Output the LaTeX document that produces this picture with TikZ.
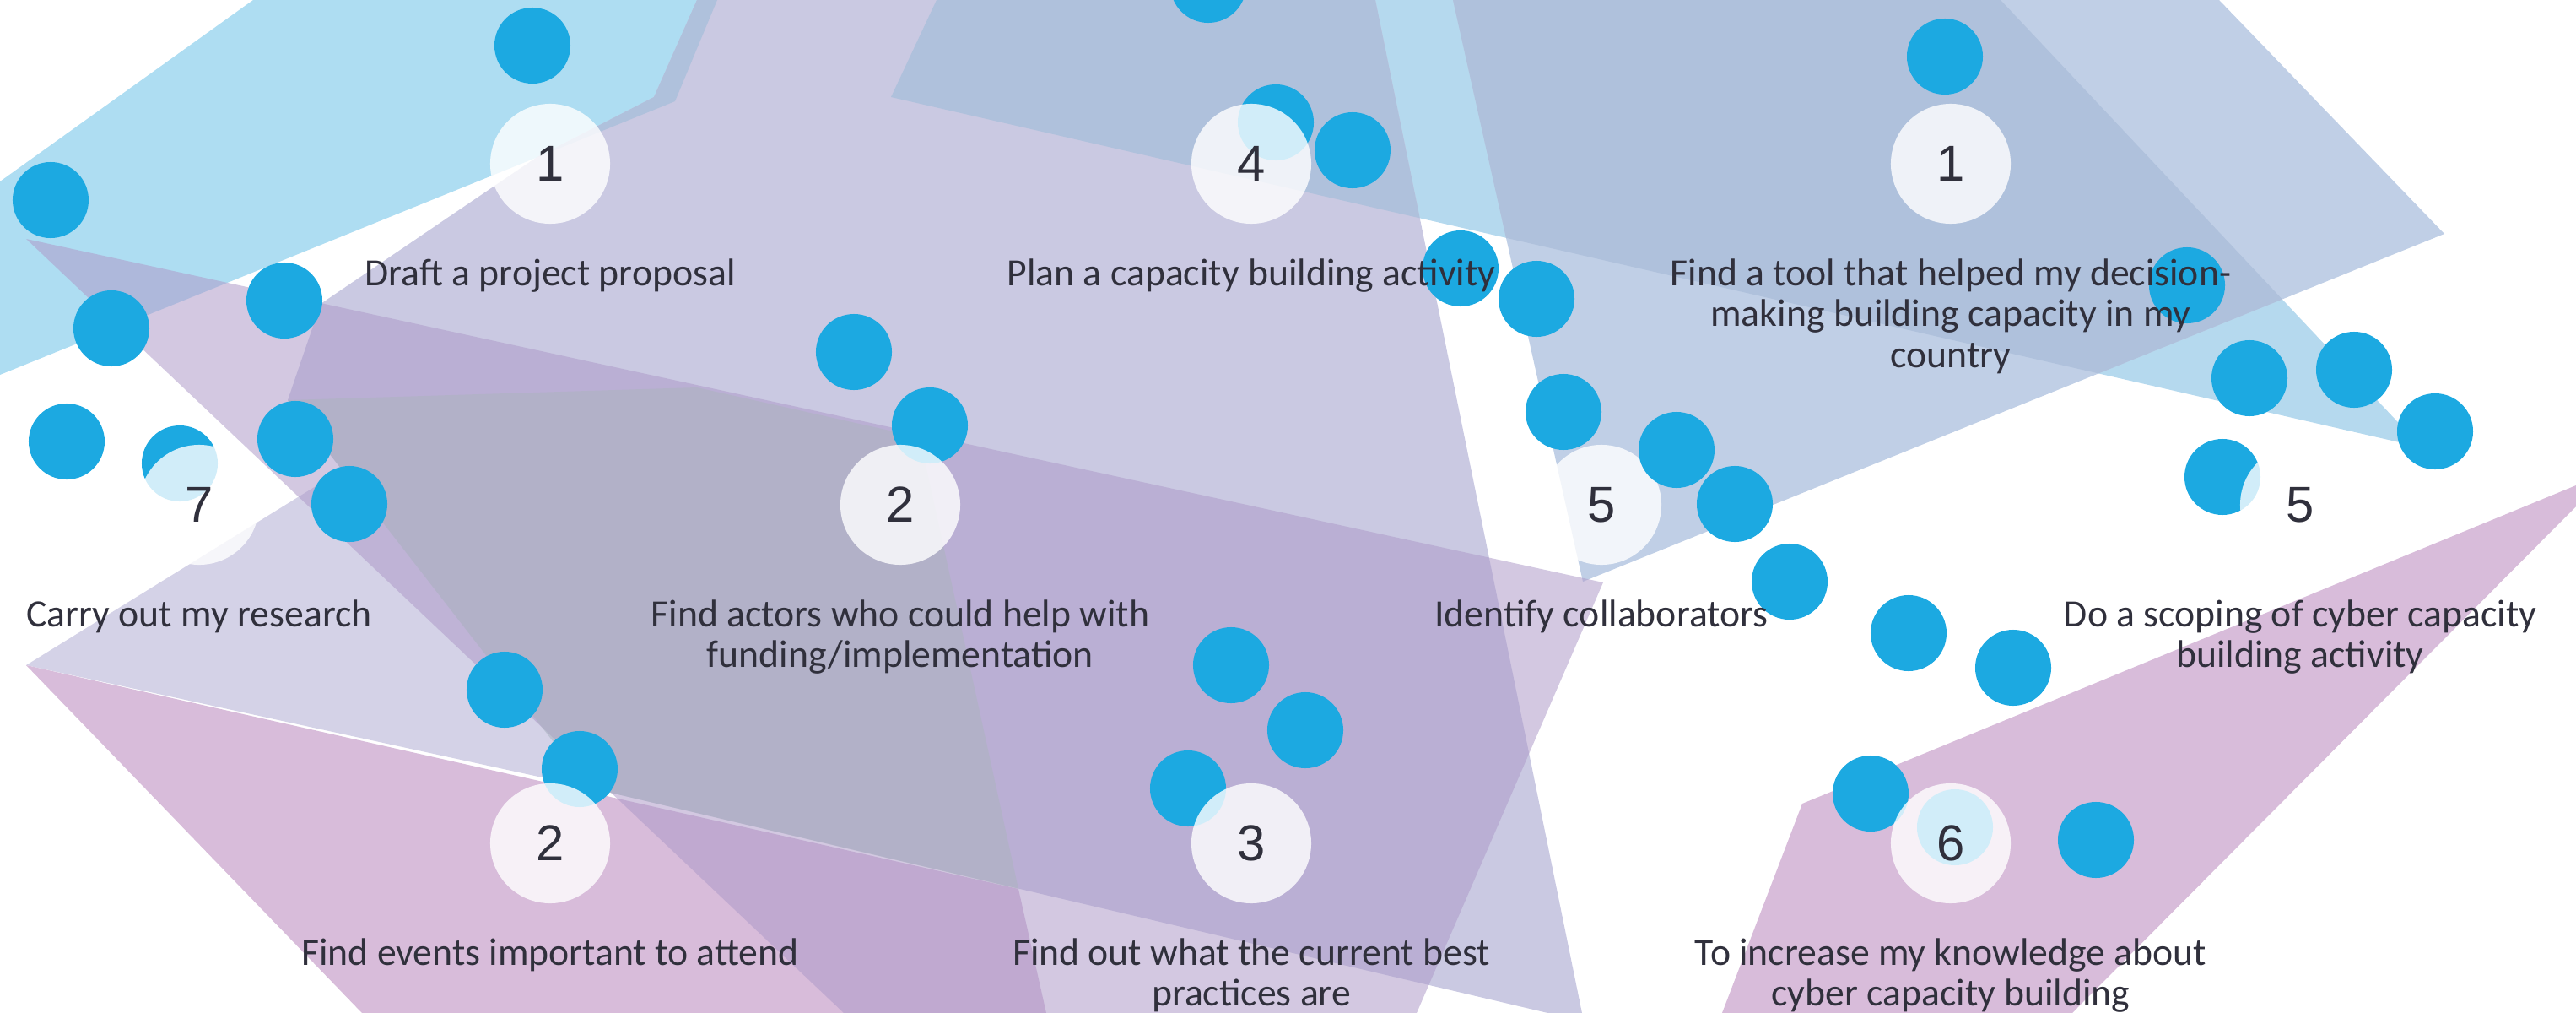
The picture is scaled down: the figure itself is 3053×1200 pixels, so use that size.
\documentclass[tikz,border=0pt]{standalone}
\usepackage{fontspec}
\setmainfont{Carlito}
\newfontfamily\numfont{Liberation Sans}
\usetikzlibrary{positioning}
\definecolor{dotblue}{HTML}{1CA9E1}
\definecolor{skyband}{HTML}{AEDDF2}
\definecolor{paleblue}{HTML}{B5D9EE}
\definecolor{bluegray}{HTML}{AFC1DC}
\definecolor{lavend}{HTML}{CAC9E2}
\definecolor{lightlav}{HTML}{D4D2E7}
\definecolor{purp}{HTML}{AE9BC9}
\definecolor{pinkish}{HTML}{D8BCDA}
\definecolor{steel}{HTML}{C0CFE6}
\definecolor{slate}{HTML}{A8B6B8}
\definecolor{txt}{HTML}{30303C}
\tikzset{
  dot/.style={fill=dotblue},
  numcirc/.style={circle, fill=white, fill opacity=0.8, text opacity=1,
    minimum size=1.42cm, inner sep=0pt, font=\numfont\fontsize{17}{17}\selectfont, text=txt},
  lbl/.style={align=center, font=\fontsize{13}{13.8}\selectfont, text=txt, inner sep=0pt}
}
\begin{document}
\begin{tikzpicture}[x=0.01cm, y=-0.01cm]
		\useasboundingbox (0,0) rectangle (3053,1200);
		\clip (0,0) rectangle (3053,1200);
		% background planes
		\fill[skyband] (0,215) -- (300,0) -- (850,0) -- (800,120) -- (635,187) -- (0,444) -- cycle;
		\fill[paleblue] (1056,115) -- (1110,0) -- (2371,0) -- (2870,530) -- cycle;
		\fill[lightlav] (31,788) -- (400,560) -- (851,468) -- (698,933) -- cycle;
		\fill[lavend] (826,0) -- (1630,0) -- (1877,1210) -- (698,933) -- (341,474) -- (380,360) -- (635,187) -- (775,115) -- cycle;
		\fill[steel] (1722,0) -- (2630,0) -- (2897,277) -- (1876,689) -- cycle;
		\begin{scope}
			\clip (0,215) -- (300,0) -- (850,0) -- (800,120) -- (635,187) -- (0,444) -- cycle;
			\fill[bluegray] (826,0) -- (1630,0) -- (1877,1210) -- (698,933) -- (341,474) -- (380,360) -- (635,187) -- (775,115) -- cycle;
		\end{scope}
		\begin{scope}
			\clip (1056,115) -- (1110,0) -- (2371,0) -- (2870,530) -- cycle;
			\fill[bluegray] (826,0) -- (1630,0) -- (1877,1210) -- (698,933) -- cycle;
			\fill[bluegray] (1722,0) -- (2630,0) -- (2897,277) -- (1876,689) -- cycle;
		\end{scope}
		\fill[pinkish] (31,788) -- (1207,1053) -- (1240,1200) -- (429,1200) -- cycle;
		\fill[purp, fill opacity=0.55] (31,283) -- (1900,690) -- (1679,1200) -- (1000,1200) -- cycle;
		\fill[slate, fill opacity=0.4] (341,474) -- (826,459) -- (1090,518) -- (1207,1053) -- (698,933) -- cycle;
		\fill[pinkish] (2136,952) -- (3053,575) -- (3053,600) -- (2456,1200) -- (2041,1200) -- cycle;
		% dots
		\foreach \x/\y in {631/54, 60/237, 337/356, 132/389, 79/523, 213/549, 350/520, 414/597,
		  1012/417, 1102/504, 598/817, 687/911, 1432/-18, 1512/145, 1603/178, 1731/318,
		  1821/354, 1853/488, 2056/597, 2121/689, 1459/788, 1547/865, 1408/934,
		  2305/67, 2592/338, 2666/448, 2790/438, 2886/511, 2634/565, 2262/750,
		  2386/791, 2217/940, 2484/995, 2317/980}
		  \fill[dot] (\x,\y) circle[radius=0.45cm];
		% numbered circles
		\node[numcirc] (c1) at (652,194) {1};
		\node[numcirc] (c4) at (1483,194) {4};
		\node[numcirc] (c1b) at (2312,194) {1};
		\node[numcirc] (c7) at (236,598) {7};
		\node[numcirc] (c2) at (1067,598) {2};
		\node[numcirc] (c5) at (1898,598) {5};
		\node[numcirc] (c5b) at (2726,598) {5};
		\node[numcirc] (c2b) at (652,999) {2};
		\node[numcirc] (c3) at (1483,999) {3};
		\node[numcirc] (c6) at (2312,999) {6};
		\fill[dot] (1987,533) circle[radius=0.45cm];
		% labels
		\node[lbl, below=0.4cm of c1] (t1) {Draft a project proposal};
		\node[lbl, below=0.4cm of c4] (t4) {Plan a capacity building activity};
		\node[lbl, below=0.4cm of c1b] (t1b) {Find a tool that helped my decision-\\making building capacity in my\\country};
		\node[lbl, below=0.4cm of c7] (t7) {Carry out my research};
		\node[lbl, below=0.4cm of c2] (t2) {Find actors who could help with\\funding/implementation};
		\node[lbl, below=0.4cm of c5] (t5) {Identify collaborators};
		\node[lbl, below=0.4cm of c5b] (t5b) {Do a scoping of cyber capacity\\building activity};
		\node[lbl, below=0.4cm of c2b] (t2b) {Find events important to attend};
		\node[lbl, below=0.4cm of c3] (t3) {Find out what the current best\\practices are};
		\node[lbl, below=0.4cm of c6] (t6) {To increase my knowledge about\\cyber capacity building};
\end{tikzpicture}
\end{document}
